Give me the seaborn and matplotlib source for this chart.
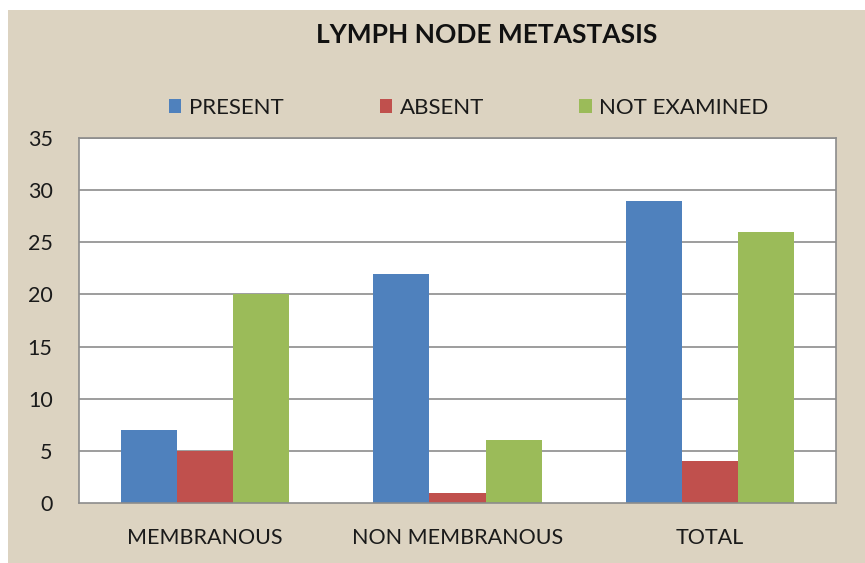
import matplotlib
matplotlib.use("Agg")
import matplotlib.pyplot as plt
import seaborn as sns
import pandas as pd

categories = ["MEMBRANOUS", "NON MEMBRANOUS", "TOTAL"]
series_names = ["PRESENT", "ABSENT", "NOT EXAMINED"]
present = [7, 22, 29]
absent = [5, 1, 4]
not_examined = [20, 6, 26]
colors = ["#4F81BD", "#C0504D", "#9BBB59"]
yticks = [0, 5, 10, 15, 20, 25, 30, 35]

rows = []
for name, vals in zip(series_names, [present, absent, not_examined]):
    for c, v in zip(categories, vals):
        rows.append({"category": c, "series": name, "value": v})
df = pd.DataFrame(rows)

sns.set_theme(style="white")
plt.rcParams["font.family"] = ["Lato", "DejaVu Sans"]

fig = plt.figure(figsize=(8.65, 5.63), dpi=100)
fig.patch.set_facecolor("white")
bg = plt.Rectangle((8 / 865, 0), 1, 1 - 10 / 563, transform=fig.transFigure,
                   facecolor="#dcd3c1", edgecolor="none", zorder=-10)
fig.patches.append(bg)

ax = fig.add_axes([79 / 865, 1 - 503 / 563, (836 - 79) / 865, (503 - 138) / 563])
sns.barplot(data=df, x="category", y="value", hue="series", order=categories,
            hue_order=series_names, palette=colors, width=2 / 3, gap=0,
            saturation=1, ax=ax, legend=False, edgecolor="none", linewidth=0)
ax.set_facecolor("white")
ax.set_ylim(0, 35)
ax.set_xlim(-0.5, 2.5)
ax.set_yticks(yticks)
ax.set_yticklabels([str(t) for t in yticks], fontsize=15.5, color="#1a1a1a")
ax.tick_params(axis="x", labelsize=15.5, colors="#1a1a1a", pad=18, length=0)
ax.tick_params(axis="y", pad=19, length=0)
ax.set_xlabel("")
ax.set_ylabel("")
for t in yticks[1:]:
    ax.axhline(t, color="#8c8c8c", linewidth=1.2, zorder=0)
for s in ax.spines.values():
    s.set_color("#8c8c8c")
    s.set_linewidth(1.2)
ax.set_axisbelow(True)

fig.text(487 / 865, 1 - 35 / 563, "LYMPH NODE METASTASIS", ha="center", va="center",
         fontsize=19, fontweight="bold", color="#111111")

handles = [plt.Rectangle((0, 0), 1, 1, facecolor=c, edgecolor="none") for c in colors]
fig.legend(handles, series_names, loc="center", bbox_to_anchor=(469 / 865, 1 - 108 / 563),
           ncol=3, frameon=False, fontsize=16, handlelength=0.55, handleheight=0.6,
           handletextpad=0.35, columnspacing=4.3, labelcolor="#1a1a1a")

fig.savefig("out.png", dpi=100, facecolor=fig.get_facecolor())
